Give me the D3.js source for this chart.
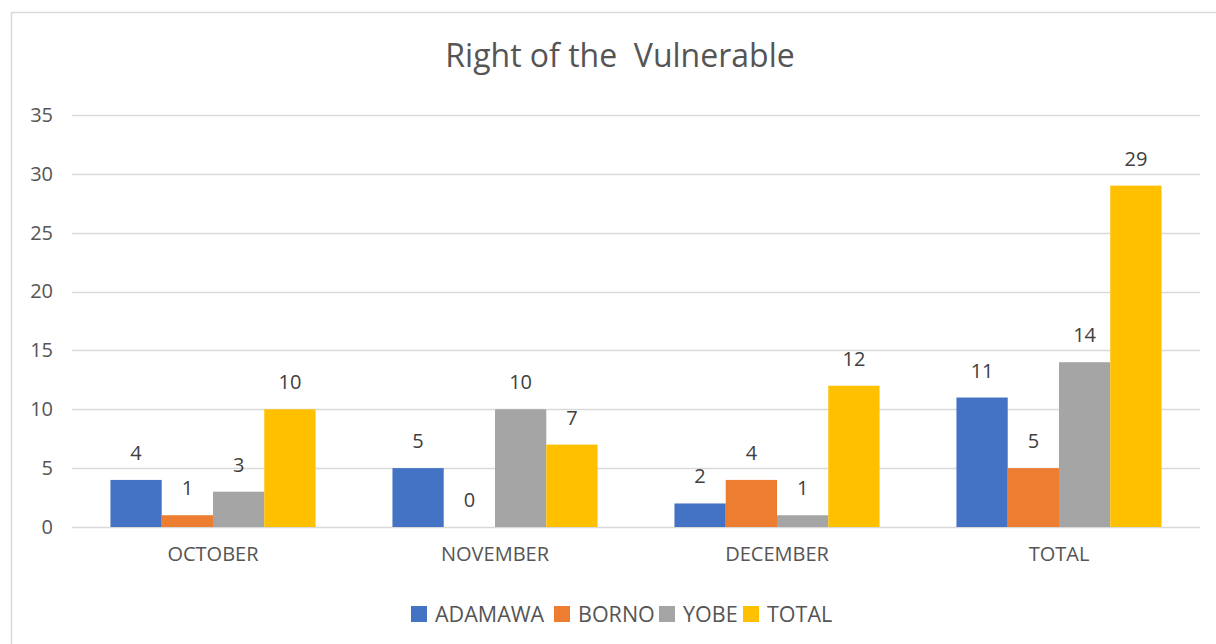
<!DOCTYPE html>
<html>
<head>
<meta charset="utf-8">
<script src="https://cdn.jsdelivr.net/npm/d3@7"></script>
<style>
  body { margin: 0; background: #fff; }
  svg { display: block; font-family: "Open Sans", sans-serif; }
</style>
</head>
<body>
<div id="chart"></div>
<script>
const categories = ['OCTOBER', 'NOVEMBER', 'DECEMBER', 'TOTAL'];
const seriesNames = ['ADAMAWA', 'BORNO', 'YOBE', 'TOTAL'];
const adamawa = [4, 5, 2, 11];
const borno = [1, 0, 4, 5];
const yobe = [3, 10, 1, 14];
const total = [10, 7, 12, 29];
const yTicks = [0, 5, 10, 15, 20, 25, 30, 35];
const colors = ['#4472C4', '#ED7D31', '#A5A5A5', '#FFC000'];

const values = [adamawa, borno, yobe, total];

// build the table: one row per category
const data = categories.map((c, i) => {
    const row = {category: c};
    seriesNames.forEach((s, j) => { row[s] = values[j][i]; });
    return row;
});

const width = 1216, height = 644;
const margin = {top: 115, right: 16, bottom: 117, left: 72};
const innerW = width - margin.left - margin.right;
const innerH = height - margin.top - margin.bottom;
const textColor = '#555555';

const svg = d3.select('#chart').append('svg')
    .attr('width', width)
    .attr('height', height);

// chart frame (cropped on the right and bottom)
svg.append('rect')
    .attr('x', 11.5).attr('y', 12.5)
    .attr('width', width + 20).attr('height', height + 20)
    .attr('fill', 'none')
    .attr('stroke', '#d9d9d9')
    .attr('stroke-width', 1.5);

svg.append('text')
    .attr('x', 620)
    .attr('y', 67)
    .attr('text-anchor', 'middle')
    .attr('fill', textColor)
    .style('font-size', '32px')
    .style('white-space', 'pre')
    .attr('xml:space', 'preserve')
    .text('Right of the  Vulnerable');

const g = svg.append('g')
    .attr('transform', 'translate(' + margin.left + ',' + margin.top + ')');

const x0 = d3.scaleBand()
    .domain(categories)
    .range([0, innerW])
    .padding(0);

const gap = x0.bandwidth() * 1.5 / 5.5; // Excel gap width 150%
const x1 = d3.scaleBand()
    .domain(seriesNames)
    .range([gap / 2, x0.bandwidth() - gap / 2])
    .padding(0);

const y = d3.scaleLinear()
    .domain([0, 35])
    .range([innerH, 0]);

const colorScale = d3.scaleOrdinal().domain(seriesNames).range(colors);

// gridlines
g.append('g')
    .selectAll('line')
    .data(yTicks)
    .enter().append('line')
    .attr('x1', 0)
    .attr('x2', innerW)
    .attr('y1', d => Math.round(y(d)) + 0.5)
    .attr('y2', d => Math.round(y(d)) + 0.5)
    .attr('stroke', '#d9d9d9')
    .attr('stroke-width', 1.5);

// y axis labels
const yAxis = g.append('g')
    .call(d3.axisLeft(y).tickValues(yTicks).tickSize(0).tickPadding(19));
yAxis.select('.domain').remove();
yAxis.selectAll('text')
    .attr('fill', textColor)
    .style('font-size', '20px')
    .style('font-family', '"Open Sans", sans-serif');

// x axis labels
const xAxis = g.append('g')
    .attr('transform', 'translate(0,' + innerH + ')')
    .call(d3.axisBottom(x0).tickSize(0).tickPadding(20));
xAxis.select('.domain').remove();
xAxis.selectAll('text')
    .attr('fill', textColor)
    .style('font-size', '20px')
    .style('font-family', '"Open Sans", sans-serif');

// bars
const groups = g.selectAll('.group')
    .data(data)
    .enter().append('g')
    .attr('class', 'group')
    .attr('transform', d => 'translate(' + x0(d.category) + ',0)');

groups.selectAll('rect')
    .data(d => seriesNames.map(s => ({key: s, value: d[s]})))
    .enter().append('rect')
    .attr('x', d => x1(d.key))
    .attr('y', d => y(d.value))
    .attr('width', x1.bandwidth())
    .attr('height', d => innerH - y(d.value))
    .attr('fill', d => colorScale(d.key));

groups.selectAll('.label')
    .data(d => seriesNames.map(s => ({key: s, value: d[s]})))
    .enter().append('text')
    .attr('class', 'label')
    .attr('x', d => x1(d.key) + x1.bandwidth() / 2)
    .attr('y', d => y(d.value) - 20)
    .attr('text-anchor', 'middle')
    .attr('fill', '#404040')
    .style('font-size', '20px')
    .text(d => d.value);

// legend
const legendItems = [
    {name: 'ADAMAWA', x: 411},
    {name: 'BORNO', x: 554},
    {name: 'YOBE', x: 659},
    {name: 'TOTAL', x: 743}
];
const legend = svg.selectAll('.legend')
    .data(legendItems)
    .enter().append('g')
    .attr('class', 'legend')
    .attr('transform', d => 'translate(' + d.x + ',606)');
legend.append('rect')
    .attr('width', 16)
    .attr('height', 16)
    .attr('fill', d => colorScale(d.name));
legend.append('text')
    .attr('x', 24)
    .attr('y', 16)
    .attr('fill', textColor)
    .style('font-size', '21.5px')
    .text(d => d.name);
</script>
</body>
</html>
